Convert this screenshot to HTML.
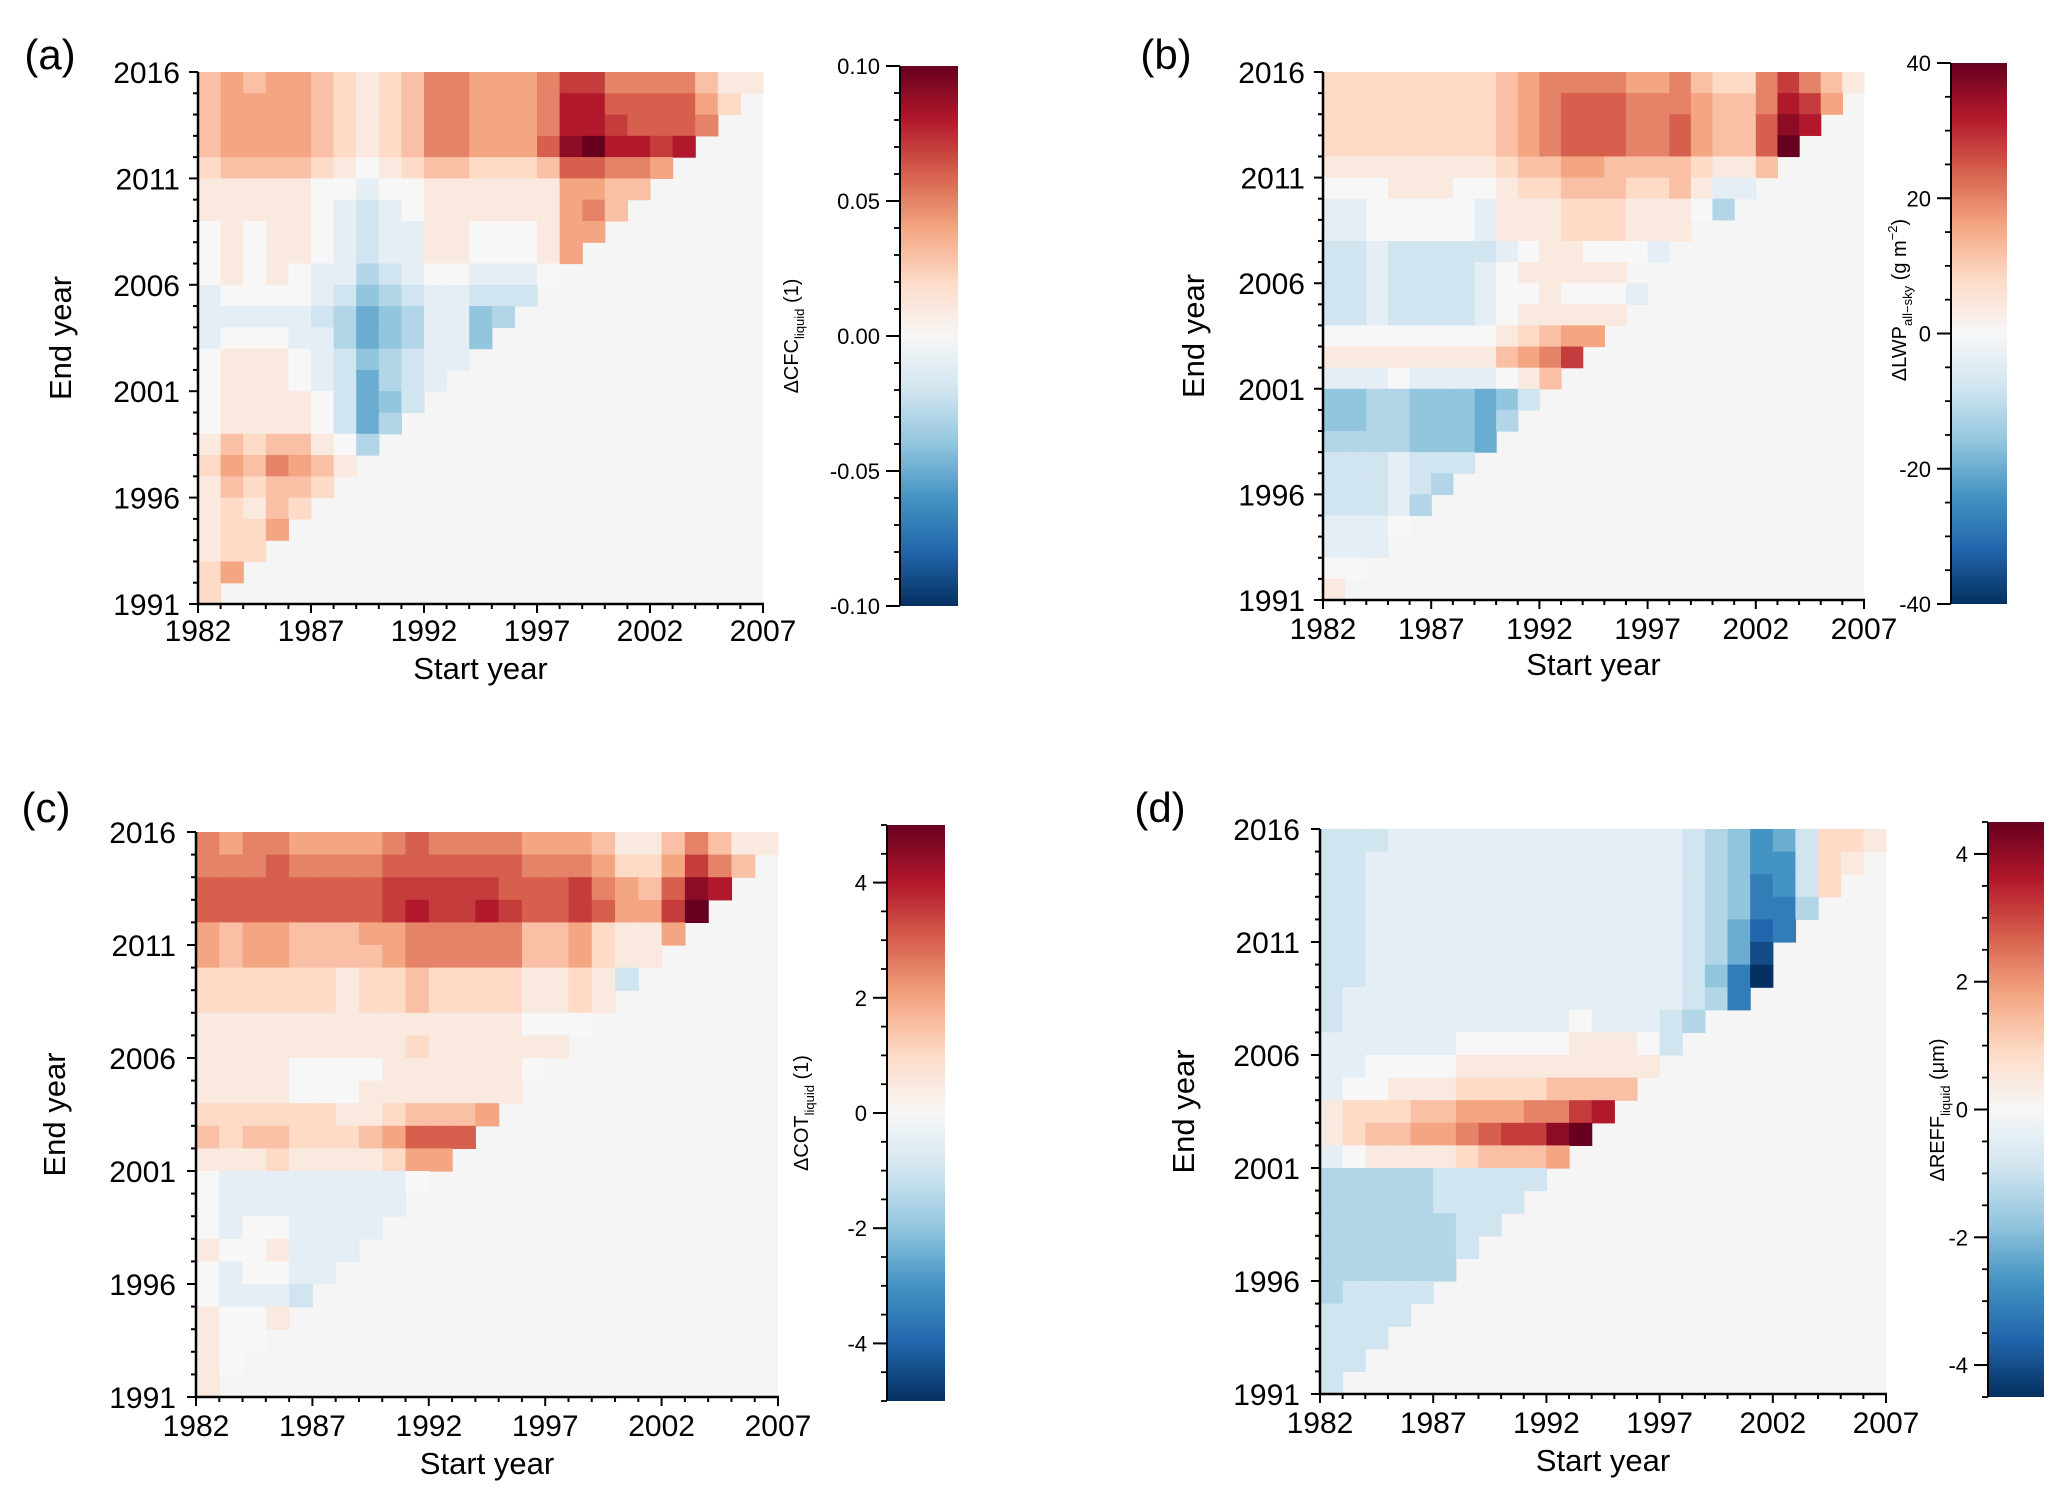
<!DOCTYPE html>
<html><head><meta charset="utf-8">
<style>
html,body{margin:0;padding:0;background:#fff;}
svg{display:block;font-family:"Liberation Sans",Arial,sans-serif;}
</style></head>
<body>
<svg id="fig" width="2067" height="1504" viewBox="0 0 2067 1504" xmlns="http://www.w3.org/2000/svg"></svg>
<script>
// Row 0 = end year 2016 (down to 1992); column j = start year 1982+j.
// Values are in tenths of each panel's colour limit (value = level * vmax / 10).
const startYears = [1982,1987,1992,1997,2002,2007];
const endYears = [1991,1996,2001,2006,2011,2016];
const cfcTicks = ["0.10","0.05","0.00","-0.05","-0.10"];
const lwpTicks = ["40","20","0","-20","-40"];
const cotTicks = ["4","2","0","-2","-4"];
const reffTicks = ["4","2","0","-2","-4"];
const cfcRows = [
[3,4,3,4,4,3,2,1,2,3,5,5,4,4,4,5,7,7,5,5,5,5,3,1,1],
[3,4,4,4,4,3,2,1,2,3,5,5,4,4,4,5,8,8,6,6,6,6,4,2],
[3,4,4,4,4,3,2,1,2,3,5,5,4,4,4,5,8,8,7,6,6,6,5],
[3,4,4,4,4,3,2,1,2,3,5,5,4,4,4,6,9,10,8,8,7,8],
[2,3,3,3,3,2,1,0,1,2,3,3,2,2,2,3,6,6,5,5,4],
[1,1,1,1,1,0,0,-1,0,0,1,1,1,1,1,1,4,4,3,3],
[1,1,1,1,1,0,-1,-2,-1,0,1,1,1,1,1,1,4,5,3],
[0,1,0,1,1,0,-1,-2,-1,-1,1,1,0,0,0,1,4,4],
[0,1,0,1,1,0,-1,-2,-1,-1,1,1,0,0,0,1,4],
[0,1,0,1,0,-1,-1,-3,-2,-1,0,0,-1,-1,-1,0],
[-1,0,0,0,0,-1,-2,-4,-3,-2,-1,-1,-2,-2,-2],
[-1,-1,-1,-1,-1,-2,-3,-5,-4,-3,-1,-1,-4,-3],
[-1,0,0,0,-1,-1,-3,-5,-4,-3,-1,-1,-4],
[0,1,1,1,0,-1,-2,-4,-3,-2,-1,-1],
[0,1,1,1,0,-1,-2,-5,-3,-2,-1],
[0,1,1,1,1,0,-2,-5,-4,-2],
[0,1,1,1,1,0,-2,-5,-3],
[1,3,2,3,3,1,0,-3],
[2,4,3,5,4,3,1],
[1,3,2,3,3,2],
[1,2,1,3,2],
[1,2,2,4],
[1,2,2],
[2,4],
[2]];
const lwpRows = [
[2,2,2,2,2,2,2,2,3,4,5,5,5,5,4,4,5,3,2,2,5,7,5,3,1],
[2,2,2,2,2,2,2,2,3,4,5,6,6,6,5,5,5,4,3,3,5,8,7,4],
[2,2,2,2,2,2,2,2,3,4,5,6,6,6,5,5,6,4,3,3,6,9,8],
[2,2,2,2,2,2,2,2,3,4,5,6,6,6,5,5,6,4,3,3,6,10],
[1,1,1,1,1,1,1,1,2,3,3,4,4,3,3,3,3,2,1,1,3],
[0,0,0,1,1,1,0,0,1,2,2,3,3,3,2,2,3,1,-1,-1],
[-1,-1,0,0,0,0,0,-1,1,1,1,2,2,2,1,1,1,0,-3],
[-1,-1,0,0,0,0,0,-1,1,1,1,2,2,2,1,1,1],
[-2,-2,-1,-2,-2,-2,-2,-2,-1,0,1,1,0,0,0,-1],
[-2,-2,-1,-2,-2,-2,-2,-1,0,1,1,1,1,1],
[-2,-2,-1,-2,-2,-2,-2,-1,0,0,1,0,0,0,-1],
[-2,-2,-1,-2,-2,-2,-2,-1,0,1,1,1,1,1],
[0,0,0,0,0,0,0,0,1,2,3,4,4],
[1,1,1,1,1,1,1,1,3,4,5,7],
[-1,-1,-1,0,-1,-1,-1,-1,0,1,3],
[-4,-4,-3,-3,-4,-4,-4,-5,-4,-2],
[-4,-4,-3,-3,-4,-4,-4,-5,-3],
[-3,-3,-3,-3,-4,-4,-4,-5],
[-2,-2,-2,-1,-2,-2,-2],
[-2,-2,-2,-1,-2,-3],
[-2,-2,-2,-1,-3],
[-1,-1,-1,0],
[-1,-1,-1],
[0,0],
[1]];
const cotRows = [
[5,4,5,5,4,4,4,4,5,6,5,5,5,5,4,4,4,3,1,1,3,5,3,1,1],
[5,5,5,6,5,5,5,5,6,6,6,6,6,6,5,5,5,4,2,2,4,7,5,3],
[6,6,6,6,6,6,6,6,7,7,7,7,7,6,6,6,7,5,4,3,6,9,8],
[6,6,6,6,6,6,6,6,7,8,7,7,8,7,6,6,7,6,4,4,7,10],
[4,3,4,4,3,3,3,4,4,5,5,5,5,5,3,3,4,2,1,1,4],
[4,3,4,4,3,3,3,3,4,5,5,5,5,5,3,3,4,2,1,1],
[2,2,2,2,2,2,1,2,2,3,2,2,2,2,1,1,2,1,-2],
[2,2,2,2,2,2,1,2,2,3,2,2,2,2,1,1,2,1],
[1,1,1,1,1,1,1,1,1,1,1,1,1,1,0,0,0],
[1,1,1,1,1,1,1,1,1,2,1,1,1,1,1,1],
[1,1,1,1,0,0,0,0,1,1,1,1,1,1,0],
[1,1,1,1,0,0,0,1,1,1,1,1,1,1],
[2,2,2,2,2,2,1,1,2,3,3,3,4],
[3,2,3,3,2,2,2,3,4,6,6,6],
[1,1,1,2,1,1,1,1,2,4,4],
[0,-1,-1,-1,-1,-1,-1,-1,-1,0],
[0,-1,-1,-1,-1,-1,-1,-1,-1],
[0,-1,0,0,-1,-1,-1,-1],
[1,0,0,1,-1,-1,-1],
[0,-1,0,0,-1,-1],
[0,-1,-1,-1,-2],
[1,0,0,1],
[1,0,0],
[1,0],
[1]];
const reffRows = [
[-2,-2,-2,-1,-1,-1,-1,-1,-1,-1,-1,-1,-1,-1,-1,-1,-2,-3,-4,-6,-5,-2,2,2,1],
[-2,-2,-1,-1,-1,-1,-1,-1,-1,-1,-1,-1,-1,-1,-1,-1,-2,-3,-4,-6,-6,-2,2,1],
[-2,-2,-1,-1,-1,-1,-1,-1,-1,-1,-1,-1,-1,-1,-1,-1,-2,-3,-4,-7,-6,-2,2],
[-2,-2,-1,-1,-1,-1,-1,-1,-1,-1,-1,-1,-1,-1,-1,-1,-2,-3,-4,-7,-7,-3],
[-2,-2,-1,-1,-1,-1,-1,-1,-1,-1,-1,-1,-1,-1,-1,-1,-2,-3,-5,-8,-7],
[-2,-2,-1,-1,-1,-1,-1,-1,-1,-1,-1,-1,-1,-1,-1,-1,-2,-3,-5,-9],
[-2,-2,-1,-1,-1,-1,-1,-1,-1,-1,-1,-1,-1,-1,-1,-1,-2,-4,-7,-10],
[-2,-1,-1,-1,-1,-1,-1,-1,-1,-1,-1,-1,-1,-1,-1,-1,-2,-3,-7],
[-2,-1,-1,-1,-1,-1,-1,-1,-1,-1,-1,0,-1,-1,-1,-2,-3],
[-1,-1,-1,-1,-1,-1,0,0,0,0,0,1,1,1,0,-2],
[-1,-1,0,0,0,0,1,1,1,1,1,1,1,1,1],
[-1,0,0,1,1,1,2,2,2,2,3,3,3,3],
[1,2,2,2,3,3,4,4,4,5,5,7,8],
[1,2,3,3,4,4,5,6,7,7,9,10],
[-1,0,1,1,1,1,2,3,3,3,4],
[-3,-3,-3,-3,-3,-2,-2,-2,-2,-2],
[-3,-3,-3,-3,-3,-2,-2,-2,-2],
[-3,-3,-3,-3,-3,-3,-2,-2],
[-3,-3,-3,-3,-3,-3,-2],
[-3,-3,-3,-3,-3,-3],
[-3,-2,-2,-2,-2],
[-2,-2,-2,-2],
[-2,-2,-2],
[-2,-2],
[-2]];

const NS="http://www.w3.org/2000/svg";
const svg=document.getElementById('fig');
function mk(tag,attrs,parent){const e=document.createElementNS(NS,tag);for(const k in attrs)e.setAttribute(k,attrs[k]);(parent||svg).appendChild(e);return e;}
const stops=["#053061","#2166ac","#4393c3","#92c5de","#d1e5f0","#f7f7f7","#fddbc7","#f4a582","#d6604d","#b2182b","#67001f"];
function hex(h){return [1,3,5].map(i=>parseInt(h.substr(i,2),16));}
function cmap(t){t=Math.max(0,Math.min(1,t))*10;const i=Math.min(9,Math.floor(t));const f=t-i;const a=hex(stops[i]),b=hex(stops[i+1]);return 'rgb('+a.map((v,k)=>Math.round(v+(b[k]-v)*f)).join(',')+')';}

const gradDefs=mk('defs',{});
const lg=mk('linearGradient',{id:'rdbu',x1:0,y1:1,x2:0,y2:0},gradDefs);
stops.forEach((c,i)=>mk('stop',{offset:(i*10)+'%','stop-color':c},lg));

const panels=[
 {key:'a',label:'(a)',rows:cfcRows,lab:[50,55],hx0:198,hy0:72,hx1:763,hy1:604,yl:180,eyx:60,xly:630,sty:668,
  cb:[900,66,958,606],cbTicks:cfcTicks,cbMax:0.10,cbTickVals:[0.10,0.05,0,-0.05,-0.10],minor:0.01,cbtx:798,tcy:336,
  title:[['ΔCFC',0],['liquid',1],[' (1)',0]]},
 {key:'b',label:'(b)',rows:lwpRows,lab:[1166,55],hx0:1323,hy0:72,hx1:1864,hy1:600,yl:1305,eyx:1193,xly:628,sty:664,
  cb:[1951,63,2007,604],cbTicks:lwpTicks,cbMax:40,cbTickVals:[40,20,0,-20,-40],minor:5,cbtx:1906,tcy:300,
  title:[['ΔLWP',0],['all−sky',1],[' (g m',0],['−2',2],[')',0]]},
 {key:'c',label:'(c)',rows:cotRows,lab:[46,808],hx0:196,hy0:832,hx1:778,hy1:1397,yl:176,eyx:54,xly:1425,sty:1463,
  cb:[887,825,945,1401],cbTicks:cotTicks,cbMax:5,cbTickVals:[4,2,0,-2,-4],minor:0.5,cbtx:808,tcy:1113,
  title:[['ΔCOT',0],['liquid',1],[' (1)',0]]},
 {key:'d',label:'(d)',rows:reffRows,lab:[1160,808],hx0:1320,hy0:829,hx1:1886,hy1:1394,yl:1300,eyx:1183,xly:1422,sty:1460,
  cb:[1988,822,2044,1397],cbTicks:reffTicks,cbMax:4.5,cbTickVals:[4,2,0,-2,-4],minor:0.5,cbtx:1944,tcy:1110,
  title:[['ΔREFF',0],['liquid',1],[' (μm)',0]]}
];

panels.forEach(p=>{
  const g=mk('g',{});
  
  
  const xs=y=>p.hx0+(y-1982)/25*(p.hx1-p.hx0);
  const ys=y=>p.hy1-(y-1991)/25*(p.hy1-p.hy0);
  const bg=mk('rect',{x:p.hx0,y:p.hy0,width:p.hx1-p.hx0,height:p.hy1-p.hy0,fill:'#f5f5f5'},g);
  
  
  p.rows.forEach((row,r)=>{
    const end=2016-r;
    row.forEach((v,j)=>{
      const s=1982+j;
      const x0=xs(s),x1=xs(s+1),y0=ys(end),y1=ys(end-1);
      const c=mk('rect',{x:x0.toFixed(2),y:y0.toFixed(2),width:(x1-x0+0.6).toFixed(2),height:(y1-y0+0.6).toFixed(2),fill:cmap((v/10+1)/2)},g);
      
      
    });
  });
  mk('line',{x1:p.hx0,y1:p.hy0,x2:p.hx0,y2:p.hy1+1,stroke:'#000','stroke-width':2.5},g);
  mk('line',{x1:p.hx0-1,y1:p.hy1,x2:p.hx1+1,y2:p.hy1,stroke:'#000','stroke-width':2.5},g);
  for(let y=1982;y<=2007;y++){const x=xs(y);const maj=(y-1982)%5===0;mk('line',{x1:x,y1:p.hy1,x2:x,y2:p.hy1+(maj?9:5),stroke:'#000','stroke-width':2},g);}
  for(let y=1991;y<=2016;y++){const yy=ys(y);const maj=(y-1991)%5===0;mk('line',{x1:p.hx0,y1:yy,x2:p.hx0-(maj?9:5),y2:yy,stroke:'#000','stroke-width':2},g);}
  startYears.forEach(y=>{const t=mk('text',{x:xs(y),y:p.xly+11,'font-size':30,'text-anchor':'middle'},g);t.textContent=y;
    });
  endYears.forEach(y=>{const t=mk('text',{x:p.yl,y:ys(y)+11,'font-size':30,'text-anchor':'end'},g);t.textContent=y;
    });
  const xt=mk('text',{x:(p.hx0+p.hx1)/2,y:p.sty+11,'font-size':31,'text-anchor':'middle'},g);xt.textContent='Start year';
  
  const cy=(p.hy0+p.hy1)/2;
  const yt=mk('text',{x:p.eyx+11,y:cy,'font-size':31,'text-anchor':'middle',transform:'rotate(-90 '+(p.eyx+11)+' '+cy+')'},g);yt.textContent='End year';
  
  const pl=mk('text',{x:p.lab[0],y:p.lab[1]+14,'font-size':42,'text-anchor':'middle'},g);pl.textContent=p.label;
  
  const [cx0,cy0,cx1,cy1]=p.cb;
  const cb=mk('rect',{x:cx0,y:cy0,width:cx1-cx0,height:cy1-cy0,fill:'url(#rdbu)'},g);
  
  mk('line',{x1:cx0,y1:cy0,x2:cx0,y2:cy1,stroke:'#000','stroke-width':2},g);
  const cys=v=>cy1-(v+p.cbMax)/(2*p.cbMax)*(cy1-cy0);
  const n=Math.round(2*p.cbMax/p.minor);
  for(let i=0;i<=n;i++){const v=-p.cbMax+i*p.minor;const yy=cys(v);mk('line',{x1:cx0,y1:yy,x2:cx0-6,y2:yy,stroke:'#000','stroke-width':1.8},g);}
  p.cbTickVals.forEach((v,i)=>{const yy=cys(v);mk('line',{x1:cx0,y1:yy,x2:cx0-14,y2:yy,stroke:'#000','stroke-width':2},g);
    const t=mk('text',{x:cx0-20,y:yy+8,'font-size':22,'text-anchor':'end'},g);t.textContent=p.cbTicks[i];
    });
  const tcy=p.tcy;
  const tt=mk('text',{x:p.cbtx,y:tcy,'font-size':20,'text-anchor':'middle',transform:'rotate(-90 '+p.cbtx+' '+tcy+')'},g);
  
  let shift=0;
  p.title.forEach(([s,kind])=>{
    const target = kind===1?6:(kind===2?-9:0);
    const sp=mk('tspan',{dy:target-shift},tt);shift=target;
    if(kind)sp.setAttribute('font-size',13);
    sp.textContent=s;
  });
});
</script>
</body></html>
